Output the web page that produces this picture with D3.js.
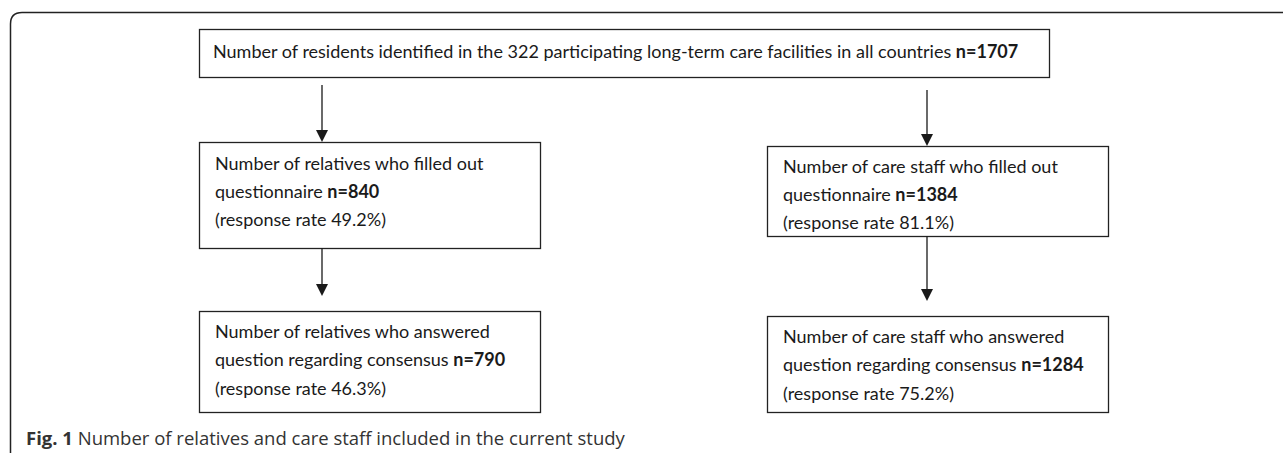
<!DOCTYPE html>
<html>
<head>
<meta charset="utf-8">
<script src="https://cdn.jsdelivr.net/npm/d3@7"></script>
<style>
  html, body { margin: 0; padding: 0; background: #fff; }
  svg { display: block; }
</style>
</head>
<body>
<svg id="flowSvg" width="1283" height="453"></svg>
<script>
// flow chart content
const totalResidents = 1707;
const facilities = 322;
const groups = ["relatives", "care staff"];
const filledOut = [840, 1384];
const filledRate = ["49.2%", "81.1%"];
const answered = [790, 1284];
const answeredRate = ["46.3%", "75.2%"];
const captionLabel = "Fig. 1";
const captionText = "Number of relatives and care staff included in the current study";

document.addEventListener('DOMContentLoaded', function () {
    drawFlow();
});

function drawFlow() {
    const svg = d3.select('#flowSvg');
    const ink = '#1a1a1a';
    const boxFont = 'Lato, "Open Sans", sans-serif';

    // columns for the two groups
    const xCol = d3.scaleOrdinal().domain(groups).range([199, 767]);
    const boxW = 341;
    const arrowX = d3.scaleOrdinal().domain(groups).range([322, 927]);

    // frame (top + left edge with rounded corner)
    svg.append('path')
        .attr('d', 'M10.5,453 L10.5,24 Q10.5,12.5 22,12.5 L1283,12.5')
        .attr('fill', 'none')
        .attr('stroke', '#222')
        .attr('stroke-width', 1.5);

    function box(x, y, w, h) {
        svg.append('rect')
            .attr('x', x + 0.5).attr('y', y + 0.5)
            .attr('width', w).attr('height', h)
            .attr('fill', '#fff')
            .attr('stroke', '#222')
            .attr('stroke-width', 1.3);
    }

    function lines(x, y0, step, rows) {
        rows.forEach((parts, i) => {
            const t = svg.append('text')
                .attr('x', x)
                .attr('y', y0 + i * step)
                .style('font-family', boxFont)
                .style('font-size', '18px')
                .attr('fill', ink);
            parts.forEach(p => {
                t.append('tspan')
                    .style('font-weight', p.bold ? 'bold' : 'normal')
                    .text(p.t);
            });
        });
    }

    function arrow(x, y1, y2) {
        svg.append('line')
            .attr('x1', x).attr('x2', x)
            .attr('y1', y1).attr('y2', y2 - 10)
            .attr('stroke', ink)
            .attr('stroke-width', 1.3);
        svg.append('path')
            .attr('d', `M${x - 6},${y2 - 12} L${x + 6},${y2 - 12} L${x},${y2} Z`)
            .attr('fill', ink);
    }

    // top box
    box(199, 29, 850, 48);
    lines(213, 58, 0, [[
        { t: `Number of residents identified in the ${facilities} participating long-term care facilities in all countries ` },
        { t: `n=${totalResidents}`, bold: true }
    ]]);

    const firstTop = [142, 146];
    const firstH = [106, 90];
    const secondTop = [311, 316];
    const secondH = [101, 96];
    const firstBase = [170, 173];
    const secondBase = [338, 343];

    groups.forEach((g, i) => {
        const x = xCol(g);
        const ax = arrowX(g);

        arrow(ax, i === 0 ? 85 : 90, firstTop[i]);
        box(x, firstTop[i], boxW, firstH[i]);
        lines(x + 16, firstBase[i], 28, [
            [{ t: `Number of ${g} who filled out` }],
            [{ t: 'questionnaire ' }, { t: `n=${filledOut[i]}`, bold: true }],
            [{ t: `(response rate ${filledRate[i]})` }]
        ]);

        arrow(ax, firstTop[i] + firstH[i], secondTop[i] - 15);
        box(x, secondTop[i], boxW, secondH[i]);
        lines(x + 16, secondBase[i], 28.3, [
            [{ t: `Number of ${g} who answered` }],
            [{ t: 'question regarding consensus ' }, { t: `n=${answered[i]}`, bold: true }],
            [{ t: `(response rate ${answeredRate[i]})` }]
        ]);
    });

    // caption
    const cap = svg.append('text')
        .attr('x', 26)
        .attr('y', 445)
        .style('font-family', '"Open Sans", sans-serif')
        .style('font-size', '18.5px')
        .attr('fill', '#333');
    cap.append('tspan').style('font-weight', 'bold').text(captionLabel + ' ');
    cap.append('tspan').text(captionText);
}
</script>
</body>
</html>
